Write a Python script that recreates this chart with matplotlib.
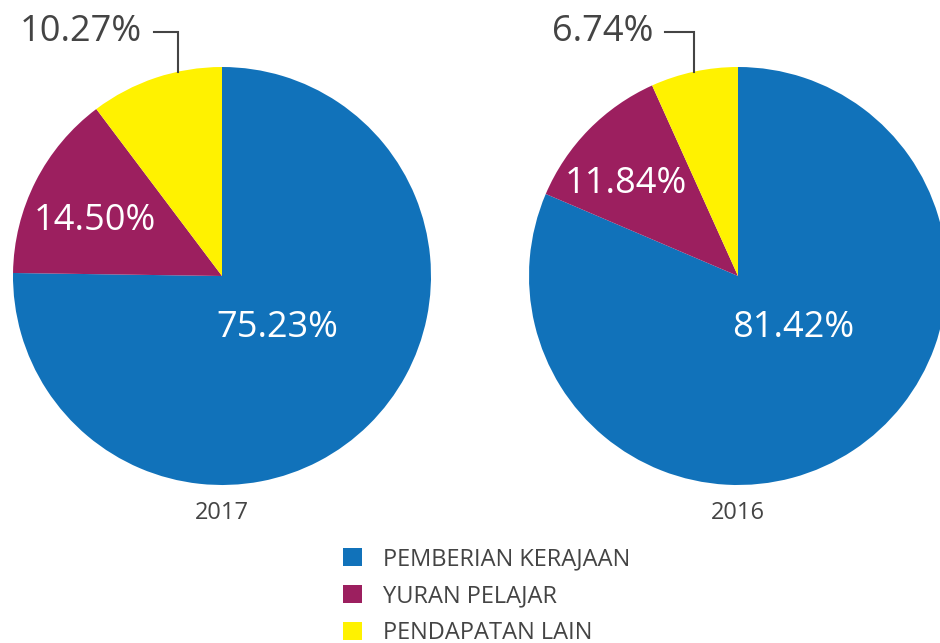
import matplotlib.pyplot as plt

kategori = ['PEMBERIAN KERAJAAN', 'YURAN PELAJAR', 'PENDAPATAN LAIN']
nilai_2017 = [75.23, 14.50, 10.27]
nilai_2016 = [81.42, 11.84, 6.74]
tahun = ['2017', '2016']
warna = ['#1172BA', '#9C1F5F', '#FFF200']
kelabu = '#444444'

plt.rcParams['font.family'] = ['Open Sans', 'DejaVu Sans']

fig = plt.figure(figsize=(9.4, 6.43), dpi=100)
ax1 = fig.add_axes([13 / 940, 1 - 485 / 643, 418 / 940, 418 / 643])
ax2 = fig.add_axes([529 / 940, 1 - 485 / 643, 418 / 940, 418 / 643])


def lukis(ax, nilai, label_tahun, pos_dalam, teks_luar_x):
    wedges, _ = ax.pie(nilai, colors=warna, startangle=90, counterclock=False,
                       radius=1, wedgeprops=dict(linewidth=0))
    ax.set_xlim(-1, 1)
    ax.set_ylim(-1, 1)
    ax.set_aspect('equal')
    ax.axis('off')
    # label dalam (biru & merah)
    for v, (x, y) in zip(nilai[:2], pos_dalam):
        ax.text(x, y, f'{v:.2f}%', color='white', fontsize=26, ha='center',
                va='center')
    # label luar (kuning) dengan garis penunjuk
    ax.text(teks_luar_x, 1.167, f'{nilai[2]:.2f}%', color=kelabu, fontsize=26,
            ha='right', va='center', clip_on=False)
    ax.plot([teks_luar_x + 0.06, -0.2105, -0.2105], [1.167, 1.167, 0.975],
            color=kelabu, lw=1.5, clip_on=False, solid_joinstyle='miter')
    ax.text(0, -1.135, label_tahun, color=kelabu, fontsize=17, ha='center',
            va='center', clip_on=False)
    return wedges


wedges = lukis(ax1, nilai_2017, tahun[0], [(0.263, -0.25), (-0.608, 0.262)], -0.383)
lukis(ax2, nilai_2016, tahun[1], [(0.263, -0.25), (-0.536, 0.442)], -0.407)

fig.legend(wedges, kategori, loc='upper left', bbox_to_anchor=(322 / 940, 1 - 526 / 643),
           frameon=False, fontsize=17, handlelength=0.8, handleheight=0.8,
           handletextpad=0.9, labelspacing=0.55, labelcolor=kelabu)

fig.savefig('out.png', dpi=100)
